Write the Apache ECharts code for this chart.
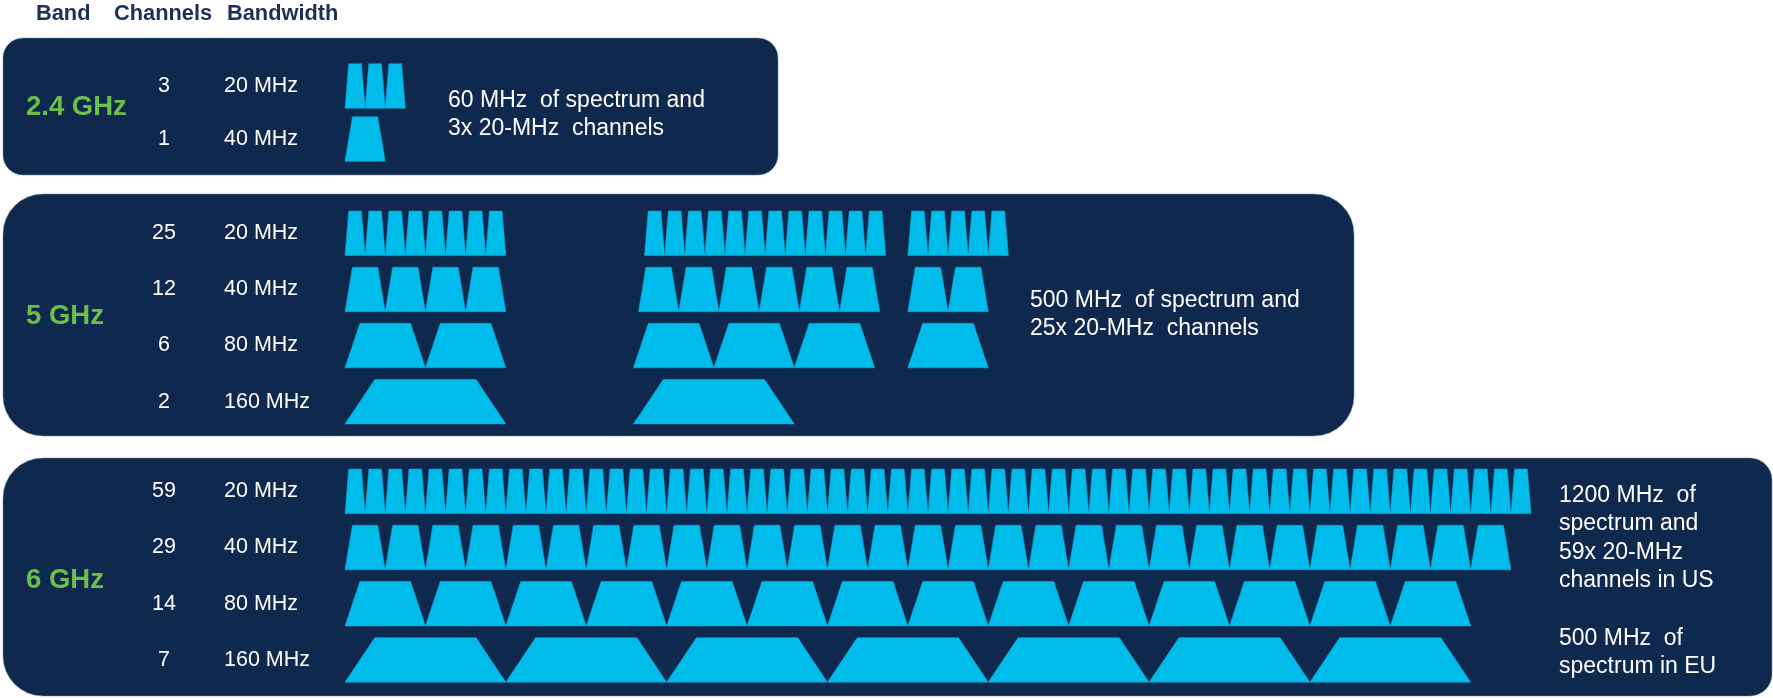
<!DOCTYPE html>
<html>
<head>
<meta charset="utf-8">
<script src="https://cdn.jsdelivr.net/npm/echarts@6/dist/echarts.min.js"></script>
<style>
html,body{margin:0;padding:0;background:#ffffff;}
#chart{width:1773px;height:698px;}
</style>
</head>
<body>
<div id="chart"></div>
<script>
// ---- data (channel start positions in 20-MHz units) ----
const bandNames = ['2.4 GHz', '5 GHz', '6 GHz'];
const headers = ['Band', 'Channels', 'Bandwidth'];

const bw24 = ['20 MHz', '40 MHz'];
const bw5 = ['20 MHz', '40 MHz', '80 MHz', '160 MHz'];
const bw6 = ['20 MHz', '40 MHz', '80 MHz', '160 MHz'];
const bwUnits = {'20 MHz': 1, '40 MHz': 2, '80 MHz': 4, '160 MHz': 8};

const g24_20 = [0, 1, 2];
const g24_40 = [0];

const g5_20 = [0, 1, 2, 3, 4, 5, 6, 7,
  14.9, 15.9, 16.9, 17.9, 18.9, 19.9, 20.9, 21.9, 22.9, 23.9, 24.9, 25.9,
  28, 29, 30, 31, 32];
const g5_40 = [0, 2, 4, 6, 14.6, 16.6, 18.6, 20.6, 22.6, 24.6, 28, 30];
const g5_80 = [0, 4, 14.35, 18.35, 22.35, 28];
const g5_160 = [0, 14.35];

const g6_20 = [0, 1, 2, 3, 4, 5, 6, 7, 8, 9, 10, 11, 12, 13, 14, 15, 16, 17, 18, 19,
  20, 21, 22, 23, 24, 25, 26, 27, 28, 29, 30, 31, 32, 33, 34, 35, 36, 37, 38, 39,
  40, 41, 42, 43, 44, 45, 46, 47, 48, 49, 50, 51, 52, 53, 54, 55, 56, 57, 58];
const g6_40 = [0, 2, 4, 6, 8, 10, 12, 14, 16, 18, 20, 22, 24, 26, 28, 30, 32, 34, 36, 38,
  40, 42, 44, 46, 48, 50, 52, 54, 56];
const g6_80 = [0, 4, 8, 12, 16, 20, 24, 28, 32, 36, 40, 44, 48, 52];
const g6_160 = [0, 8, 16, 24, 32, 40, 48];

const notes = [
  '60 MHz  of spectrum and\n3x 20-MHz  channels',
  '500 MHz  of spectrum and\n25x 20-MHz  channels',
  '1200 MHz  of\nspectrum and\n59x 20-MHz\nchannels in US\n\n500 MHz  of\nspectrum in EU'
];

// ---- build ----
const bands = [
  {labels: bw24, rows: [g24_20, g24_40]},
  {labels: bw5, rows: [g5_20, g5_40, g5_80, g5_160]},
  {labels: bw6, rows: [g6_20, g6_40, g6_80, g6_160]}
];

const FONT = '"Liberation Sans", Arial, Helvetica, sans-serif';
const NAVY = '#0f284d';
const CYAN = '#00bceb';
const GREEN = '#6cbf4a';
const HEAD = '#1b2f57';

const gridDefs = [
  {left: 345, width: 1186, top: 59.5, height: 106},
  {left: 345, width: 1186, top: 205.3, height: 224.4},
  {left: 345, width: 1186, top: 463.2, height: 224.8}
];

const xAxes = [], yAxes = [], series = [];
bands.forEach((b, i) => {
  xAxes.push({gridIndex: i, type: 'value', min: 0, max: 59, show: false});
  const common = {
    gridIndex: i, type: 'category', inverse: true, position: 'left',
    axisLine: {show: false}, axisTick: {show: false}, splitLine: {show: false}
  };
  yAxes.push(Object.assign({}, common, {
    data: b.labels,
    axisLabel: {align: 'left', margin: 121, color: '#ffffff', fontSize: 21.5, fontFamily: FONT}
  }));
  yAxes.push(Object.assign({}, common, {
    data: b.rows.map(r => String(r.length)),
    axisLabel: {align: 'center', margin: 181, color: '#ffffff', fontSize: 21.5, fontFamily: FONT}
  }));
  const data = [];
  b.rows.forEach((starts, r) => {
    const w = bwUnits[b.labels[r]];
    starts.forEach(s => data.push([s, r, w]));
  });
  series.push({
    type: 'custom',
    xAxisIndex: i,
    yAxisIndex: i * 2,
    data: data,
    encode: {x: 0, y: 1},
    silent: true,
    renderItem: function (params, api) {
      const s = api.value(0), r = api.value(1), w = api.value(2);
      const p0 = api.coord([s, r]);
      const p1 = api.coord([s + w, r]);
      const band = api.size([0, 1])[1];
      const h = Math.min(44.5, band * 0.84);
      const unit = (p1[0] - p0[0]) / w;
      const inset = 0.185 * w * unit;
      const yc = p0[1];
      return {
        type: 'polygon',
        shape: {points: [
          [p0[0], yc + h / 2],
          [p0[0] + inset, yc - h / 2],
          [p1[0] - inset, yc - h / 2],
          [p1[0], yc + h / 2]
        ]},
        style: {fill: CYAN, stroke: '#0ea6d6', lineWidth: 0.6}
      };
    }
  });
});

const panels = [
  {x: 3, y: 38, w: 775, h: 137, r: 20},
  {x: 3, y: 194, w: 1351, h: 242, r: 40},
  {x: 3, y: 458, w: 1769, h: 238, r: [40, 22, 22, 40]}
];

const graphics = [];
panels.forEach(p => {
  graphics.push({
    type: 'rect', z: -10,
    shape: {x: p.x, y: p.y, width: p.w, height: p.h, r: p.r},
    style: {fill: NAVY, stroke: 'rgba(120,135,160,0.55)', lineWidth: 1}
  });
});
const headerX = [36, 114, 227];
headers.forEach((t, i) => {
  graphics.push({
    type: 'text', z: 100,
    style: {text: t, x: headerX[i], y: 14, fill: HEAD, verticalAlign: 'middle',
      font: 'bold 21.8px ' + FONT}
  });
});
const bandY = [107, 316, 580];
bandNames.forEach((t, i) => {
  graphics.push({
    type: 'text', z: 100,
    style: {text: t, x: 26, y: bandY[i], fill: GREEN, verticalAlign: 'middle',
      font: 'bold 27.5px ' + FONT}
  });
});
const noteX = [448, 1030, 1559];
const noteY = [86, 286, 481];
notes.forEach((t, i) => {
  graphics.push({
    type: 'text', z: 100,
    style: {text: t, x: noteX[i], y: noteY[i], fill: '#ffffff', verticalAlign: 'top',
      fontSize: 23, fontFamily: FONT, lineHeight: 28.6}
  });
});

const chart = echarts.init(document.getElementById('chart'), null, {renderer: 'canvas'});
chart.setOption({
  backgroundColor: '#ffffff',
  animation: false,
  grid: gridDefs,
  xAxis: xAxes,
  yAxis: yAxes,
  series: series,
  graphic: {elements: graphics}
});
</script>
</body>
</html>
